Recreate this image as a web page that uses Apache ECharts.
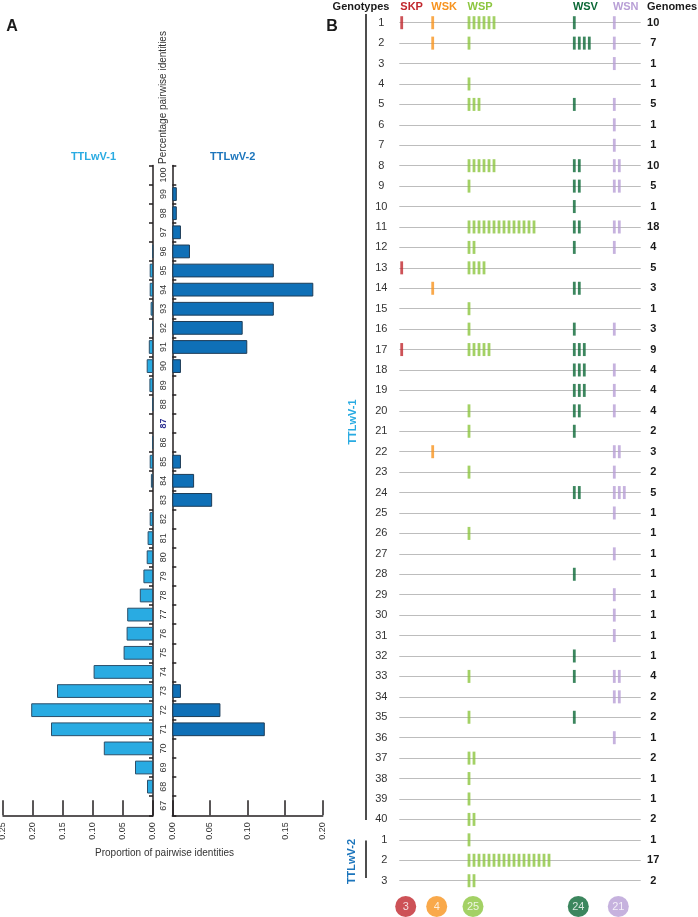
<!DOCTYPE html>
<html><head><meta charset="utf-8">
<script src="https://cdn.jsdelivr.net/npm/echarts@6/dist/echarts.min.js"></script>
<style>html,body{margin:0;padding:0;background:#fff}#c{width:698px;height:917px}</style>
</head><body><div id="c"></div>
<script>
// ---------- Panel A data ----------
const identityCategories = ['67','68','69','70','71','72','73','74','75','76','77','78','79','80','81','82','83','84','85','86','87','88','89','90','91','92','93','94','95','96','97','98','99','100'];
const ttlwv1Proportion = [0,0.010,0.030,0.082,0.170,0.203,0.160,0.099,0.049,0.044,0.043,0.022,0.016,0.0105,0.009,0.0055,0,0.0035,0.0055,0.0015,0,0.001,0.006,0.0105,0.007,0.0015,0.004,0.0055,0.0055,0.001,0,0,0,0];
const ttlwv2Proportion = [0,0,0,0,0.123,0.064,0.0115,0,0,0,0,0,0,0,0,0,0.053,0.029,0.0115,0,0,0,0,0.0115,0.0997,0.0936,0.135,0.1875,0.135,0.0235,0.0115,0.006,0.006,0];
const highlightedIdentity = '87';

// ---------- Panel B data ----------
const genotypeLabels = ['1','2','3','4','5','6','7','8','9','10','11','12','13','14','15','16','17','18','19','20','21','22','23','24','25','26','27','28','29','30','31','32','33','34','35','36','37','38','39','40','1','2','3'];
const genotypeGroups = ['TTLwV-1','TTLwV-1','TTLwV-1','TTLwV-1','TTLwV-1','TTLwV-1','TTLwV-1','TTLwV-1','TTLwV-1','TTLwV-1','TTLwV-1','TTLwV-1','TTLwV-1','TTLwV-1','TTLwV-1','TTLwV-1','TTLwV-1','TTLwV-1','TTLwV-1','TTLwV-1','TTLwV-1','TTLwV-1','TTLwV-1','TTLwV-1','TTLwV-1','TTLwV-1','TTLwV-1','TTLwV-1','TTLwV-1','TTLwV-1','TTLwV-1','TTLwV-1','TTLwV-1','TTLwV-1','TTLwV-1','TTLwV-1','TTLwV-1','TTLwV-1','TTLwV-1','TTLwV-1','TTLwV-2','TTLwV-2','TTLwV-2'];
const genomeCounts = [10,7,1,1,5,1,1,10,5,1,18,4,5,3,1,3,9,4,4,4,2,3,2,5,1,1,1,1,1,1,1,1,4,2,2,1,2,1,1,2,1,17,2];
const skpCounts = [1,0,0,0,0,0,0,0,0,0,0,0,1,0,0,0,1,0,0,0,0,0,0,0,0,0,0,0,0,0,0,0,0,0,0,0,0,0,0,0,0,0,0];
const wskCounts = [1,1,0,0,0,0,0,0,0,0,0,0,0,1,0,0,0,0,0,0,0,1,0,0,0,0,0,0,0,0,0,0,0,0,0,0,0,0,0,0,0,0,0];
const wspCounts = [6,1,0,1,3,0,0,6,1,0,14,2,4,0,1,1,5,0,0,1,1,0,1,0,0,1,0,0,0,0,0,0,1,0,1,0,2,1,1,2,1,17,2];
const wsvCounts = [1,4,0,0,1,0,0,2,2,1,2,1,0,2,0,1,3,3,3,2,1,0,0,2,0,0,0,1,0,0,0,1,1,0,1,0,0,0,0,0,0,0,0];
const wsnCounts = [1,1,1,0,1,1,1,2,2,0,2,1,0,0,0,1,0,1,1,1,0,2,1,3,1,0,1,0,1,1,1,0,2,2,0,1,0,0,0,0,0,0,0];
const speciesNames = ['SKP','WSK','WSP','WSV','WSN'];
const speciesTotals = [3,4,25,24,21];

// ---------- style / layout ----------
const FONT = '"Liberation Sans", Arial, Helvetica, sans-serif';
const speciesColors = ['#c1272d','#f7931e','#8cc63f','#0b6836','#b89fd6'];
const speciesCounts = [skpCounts, wskCounts, wspCounts, wsvCounts, wsnCounts];
const colStart = [2.4, 33.4, 69.7, 175.0, 215.0]; // column start along panel-B x axis (units)
const markStep = 5;
const panelBWidth = 241.4;
const AX = '#231f20';

const rowIds = genotypeLabels.map((l, i) => genotypeGroups[i] + '#' + l);

const chart = echarts.init(document.getElementById('c'), null, {renderer: 'canvas'});

const markSeries = speciesNames.map((name, s) => {
  const pts = [];
  speciesCounts[s].forEach((c, r) => {
    for (let k = 0; k < c; k++) pts.push([colStart[s] + k * markStep, r]);
  });
  return {
    type: 'scatter', name: name, xAxisIndex: 2, yAxisIndex: 2,
    symbol: 'rect', symbolSize: [2.8, 13], data: pts,
    itemStyle: {color: speciesColors[s]}, silent: true, z: 3
  };
});

const valueAxisBase = (gi, max, inverse) => ({
  gridIndex: gi, type: 'value', min: 0, max: max, interval: 0.05, inverse: inverse,
  axisLine: {show: true, lineStyle: {color: AX, width: 1.5}},
  axisTick: {show: true, inside: true, length: 15, lineStyle: {color: AX, width: 1.5}},
  axisLabel: {rotate: 90, margin: 7, fontSize: 9, color: '#333', fontFamily: FONT,
    formatter: v => v.toFixed(2)},
  splitLine: {show: false}
});

const option = {
  animation: false,
  backgroundColor: '#fff',
  textStyle: {fontFamily: FONT},
  grid: [
    {left: 3, right: 545, top: 165.4, bottom: 101.7, outerBoundsMode: 'none', containLabel: false},
    {left: 172.3, right: 375.3, top: 165.4, bottom: 101.7, outerBoundsMode: 'none', containLabel: false},
    {left: 399.3, right: 57.3, top: 22.7, bottom: 36.3, outerBoundsMode: 'none', containLabel: false},
    {left: 399.3, right: 57.3, top: 896, height: 21, outerBoundsMode: 'none', containLabel: false}
  ],
  xAxis: [
    valueAxisBase(0, 0.25, true),
    valueAxisBase(1, 0.2, false),
    {gridIndex: 2, type: 'value', min: 0, max: panelBWidth, show: false},
    {gridIndex: 3, type: 'value', min: 0, max: panelBWidth, show: false}
  ],
  yAxis: [
    {gridIndex: 0, type: 'category', data: identityCategories, position: 'right',
      axisLine: {show: true, lineStyle: {color: AX, width: 1.5}},
      axisTick: {show: true, inside: true, length: 4, lineStyle: {color: AX, width: 1.5}},
      axisLabel: {show: false}, splitLine: {show: false}},
    {gridIndex: 1, type: 'category', data: identityCategories, position: 'left',
      axisLine: {show: true, lineStyle: {color: AX, width: 1.5}},
      axisTick: {show: true, inside: true, length: 4, lineStyle: {color: AX, width: 1.5}},
      axisLabel: {show: true, interval: 0, rotate: 90, margin: 4, fontSize: 9, color: '#333', fontFamily: FONT,
        formatter: v => v === highlightedIdentity ? '{h|' + v + '}' : v,
        rich: {h: {fontWeight: 'bold', color: '#2e3192', fontSize: 9, fontFamily: FONT}}},
      splitLine: {show: false}},
    {gridIndex: 2, type: 'category', data: rowIds, inverse: true, boundaryGap: false,
      axisLine: {show: false}, axisTick: {show: false},
      splitLine: {show: true, lineStyle: {color: '#bdbdbd', width: 1}},
      axisLabel: {show: true, interval: 0, align: 'center', margin: 18, fontSize: 11, color: '#333', fontFamily: FONT,
        formatter: (v, i) => genotypeGroups[i] === 'TTLwV-2' ? '{g|' + genotypeLabels[i] + '}' : genotypeLabels[i],
        rich: {g: {padding: [0, 0, 0, 6], fontSize: 11, color: '#333', fontFamily: FONT}}}},
    {gridIndex: 2, type: 'category', data: rowIds, inverse: true, boundaryGap: false, position: 'right',
      axisLine: {show: false}, axisTick: {show: false}, splitLine: {show: false},
      axisLabel: {show: true, interval: 0, align: 'center', margin: 12.5, fontSize: 11, fontWeight: 'bold', color: '#1a1a1a', fontFamily: FONT,
        formatter: (v, i) => String(genomeCounts[i])}},
    {gridIndex: 3, type: 'value', min: 0, max: 1, show: false}
  ],
  series: [
    {type: 'bar', name: 'TTLwV-1', xAxisIndex: 0, yAxisIndex: 0, barWidth: '72%', silent: true,
      data: ttlwv1Proportion.map(v => v > 0 ? v : '-'),
      itemStyle: {color: '#29abe2', borderColor: '#2c4f6a', borderWidth: 1}},
    {type: 'bar', name: 'TTLwV-2', xAxisIndex: 1, yAxisIndex: 1, barWidth: '72%', silent: true,
      data: ttlwv2Proportion.map(v => v > 0 ? v : '-'),
      itemStyle: {color: '#0f70b7', borderColor: '#1d3c57', borderWidth: 1}},
    ...markSeries,
    {type: 'scatter', name: 'totals', xAxisIndex: 3, yAxisIndex: 4, symbol: 'circle', symbolSize: 21, silent: true,
      data: speciesTotals.map((t, i) => ({value: [colStart[i] + 4, 0.5], itemStyle: {color: speciesColors[i]}})),
      label: {show: true, position: 'inside', color: '#fff', fontSize: 11, fontFamily: FONT,
        formatter: p => String(speciesTotals[p.dataIndex])}}
  ]
};
chart.setOption(option);

// headers placed through the panel-B axis
const headerGraphics = speciesNames.map((n, i) => {
  const px = chart.convertToPixel({xAxisIndex: 2}, colStart[i]);
  return {type: 'text', x: px - 1.4, y: 7, silent: true,
    style: {text: n, fill: speciesColors[i], font: 'bold 11px ' + FONT, align: 'left', verticalAlign: 'middle'}};
});

const txt = (text, x, y, font, fill, align, rot) => ({
  type: 'text', x: x, y: y, rotation: rot || 0, silent: true,
  style: {text: text, font: font, fill: fill, align: align || 'center', verticalAlign: 'middle'}
});

chart.setOption({
  graphic: [
    txt('A', 12, 27, 'bold 16px ' + FONT, '#1a1a1a'),
    txt('B', 332, 27, 'bold 16px ' + FONT, '#1a1a1a'),
    txt('TTLwV-1', 93.5, 157, 'bold 11px ' + FONT, '#29abe2'),
    txt('TTLwV-2', 232.7, 157, 'bold 11px ' + FONT, '#1c75bc'),
    txt('Percentage pairwise identities', 163, 97.5, '10px ' + FONT, '#333', 'center', Math.PI / 2),
    txt('Proportion of pairwise identities', 164.5, 853, '10px ' + FONT, '#333'),
    txt('Genotypes', 361, 7, 'bold 11px ' + FONT, '#1a1a1a'),
    txt('Genomes', 647, 7, 'bold 11px ' + FONT, '#1a1a1a', 'left'),
    ...headerGraphics,
    {type: 'line', silent: true, shape: {x1: 366, y1: 14, x2: 366, y2: 820}, style: {stroke: '#4d4d4d', lineWidth: 2}},
    {type: 'line', silent: true, shape: {x1: 366, y1: 840.5, x2: 366, y2: 878}, style: {stroke: '#4d4d4d', lineWidth: 2}},
    txt('TTLwV-1', 352.5, 422, 'bold 11px ' + FONT, '#29abe2', 'center', Math.PI / 2),
    txt('TTLwV-2', 351.7, 861.5, 'bold 11px ' + FONT, '#1c75bc', 'center', Math.PI / 2)
  ]
});
</script>
</body></html>
